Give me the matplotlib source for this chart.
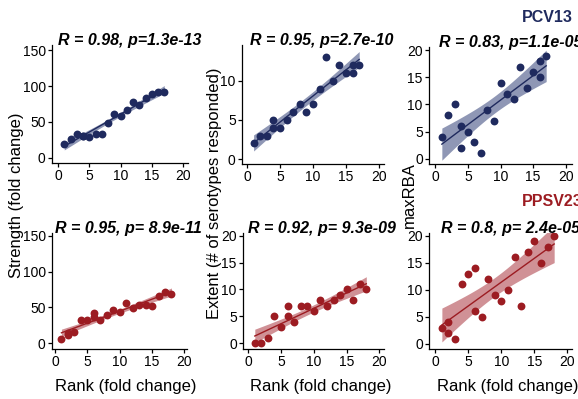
import numpy as np
import matplotlib
matplotlib.use("agg")
import matplotlib.pyplot as plt

plt.rcParams["font.family"] = ["Liberation Sans", "DejaVu Sans"]

navy = "#1f2a5e"
red = "#9c1c22"

# PCV13 responders
pcv_strength_x = [1, 2, 3, 4, 4, 5, 6, 7, 8, 9, 10, 11, 12, 13, 14, 15, 16, 17]
pcv_strength_y = [20, 26, 34, 30, 31, 29, 34, 34, 48, 61, 58, 67, 78, 73, 84, 89, 91, 92]
pcv_extent_x = [1, 2, 3, 4, 4, 5, 6, 7, 8, 9, 10, 11, 12, 13, 14, 15, 16, 16, 17]
pcv_extent_y = [2, 3, 3, 5, 4, 4, 5, 6, 7, 6, 7, 9, 13, 10, 12, 11, 12, 11, 12]
pcv_rba_x = [1, 2, 3, 4, 4, 5, 6, 7, 8, 9, 10, 11, 12, 13, 14, 15, 16, 16, 17]
pcv_rba_y = [4, 8, 10, 6, 2, 5, 3, 1, 9, 7, 14, 12, 11, 17, 13, 16, 18, 15, 19]

# PPSV23 responders
ppsv_strength_x = [1, 2, 2, 3, 4, 5, 6, 6, 7, 8, 9, 10, 11, 12, 13, 14, 15, 16, 17, 18]
ppsv_strength_y = [6, 11, 15, 16, 32, 33, 42, 37, 33, 40, 47, 43, 56, 49, 54, 53, 52, 66, 72, 69]
ppsv_extent_x = [1, 2, 3, 4, 5, 6, 6, 7, 8, 9, 10, 11, 12, 13, 14, 15, 16, 17, 18]
ppsv_extent_y = [0, 0, 1, 5, 3, 7, 5, 4, 7, 7, 6, 8, 7, 8, 9, 10, 8, 11, 10]
ppsv_rba_x = [1, 2, 2, 3, 4, 5, 6, 6, 7, 8, 9, 10, 11, 12, 13, 14, 15, 16, 17, 18]
ppsv_rba_y = [3, 4, 2, 1, 11, 13, 14, 6, 5, 12, 9, 8, 10, 16, 7, 17, 19, 15, 18, 20]

titles = [
    "R = 0.98, p=1.3e-13", "R = 0.95, p=2.7e-10", "R = 0.83, p=1.1e-05",
    "R = 0.95, p= 8.9e-11", "R = 0.92, p= 9.3e-09", "R = 0.8, p= 2.4e-05",
]

# two-sided 95% t quantiles by degrees of freedom
t95 = {15: 2.131, 16: 2.120, 17: 2.110, 18: 2.101, 19: 2.093, 20: 2.086}


def fit_band(ax, x, y, color, band):
    x = np.asarray(x, float)
    y = np.asarray(y, float)
    n = len(x)
    b, a = np.polyfit(x, y, 1)
    resid = y - (a + b * x)
    s = np.sqrt(np.sum(resid ** 2) / (n - 2))
    xs = np.linspace(x.min(), x.max(), 100)
    se = s * np.sqrt(1 / n + (xs - x.mean()) ** 2 / np.sum((x - x.mean()) ** 2))
    fit = a + b * xs
    t = t95[n - 2]
    ax.fill_between(xs, fit - t * se, fit + t * se, color=band, lw=0, zorder=1)
    ax.plot(xs, fit, color=color, lw=1, zorder=2)
    ax.scatter(x, y, s=32, color=color, lw=0, zorder=3)


fig = plt.figure(figsize=(5.78, 3.99), dpi=100)
W, H = 578, 399

# left, right, top, bottom in pixels
boxes = [
    (52, 188, 45, 163), (242, 384, 45, 164), (429, 572, 47, 164),
    (52, 187, 233, 349), (243, 384, 233, 349), (429, 572, 233, 349),
]
ylims = [(-7, 157), (-0.64, 14.6), (-0.98, 20.6),
         (-8, 154), (-1.06, 20.5), (-0.93, 20.5)]
xlims = [(-0.96, 20.8), (-0.76, 20.76), (-0.97, 20.96),
         (-0.46, 20.4), (-0.8, 20.7), (-0.95, 20.7)]
yticks = [[0, 50, 100, 150], [0, 5, 10], [0, 5, 10, 15, 20],
          [0, 50, 100, 150], [0, 5, 10, 15, 20], [0, 5, 10, 15, 20]]
title_dx = [0.045, 0.055, 0.07, 0.025, 0.035, 0.085]

data = [
    (pcv_strength_x, pcv_strength_y), (pcv_extent_x, pcv_extent_y), (pcv_rba_x, pcv_rba_y),
    (ppsv_strength_x, ppsv_strength_y), (ppsv_extent_x, ppsv_extent_y), (ppsv_rba_x, ppsv_rba_y),
]

for i, (l, r, t, b) in enumerate(boxes):
    ax = fig.add_axes([l / W, 1 - b / H, (r - l) / W, (b - t) / H])
    color = navy if i < 3 else red
    band = "#8f97b5" if i < 3 else "#d09196"
    fit_band(ax, *data[i], color, band)
    ax.set_xlim(*xlims[i])
    ax.set_ylim(*ylims[i])
    ax.set_xticks([0, 5, 10, 15, 20])
    ax.set_yticks(yticks[i])
    ax.spines[["top", "right"]].set_visible(False)
    for sp in ("left", "bottom"):
        ax.spines[sp].set_linewidth(0.9)
    ax.tick_params(labelsize=10, length=3, width=0.9, pad=1.5)
    ax.text(title_dx[i], 1.0, titles[i], transform=ax.transAxes,
            fontsize=11.5, fontweight="bold", fontstyle="italic", va="baseline", ha="left")
    if i >= 3:
        ax.set_xlabel("Rank (fold change)", fontsize=12)
        ax.xaxis.set_label_coords(0.548, -0.255)

fig.text(17 / W, 1 - 195 / H, "Strength (fold change)", rotation=90,
         fontsize=12, ha="center", va="center")
fig.text(214 / W, 1 - 193 / H, "Extent (# of serotypes responded)", rotation=90,
         fontsize=12, ha="center", va="center")
fig.text(409 / W, 1 - 195 / H, "maxRBA", rotation=90,
         fontsize=12, ha="center", va="center")

fig.text(522 / W, 1 - 22 / H, "PCV13", color=navy, fontsize=11.5,
         fontweight="bold", ha="left", va="baseline")
fig.text(522 / W, 1 - 206 / H, "PPSV23", color=red, fontsize=11.5,
         fontweight="bold", ha="left", va="baseline")

fig.savefig("out.png", dpi=100)
